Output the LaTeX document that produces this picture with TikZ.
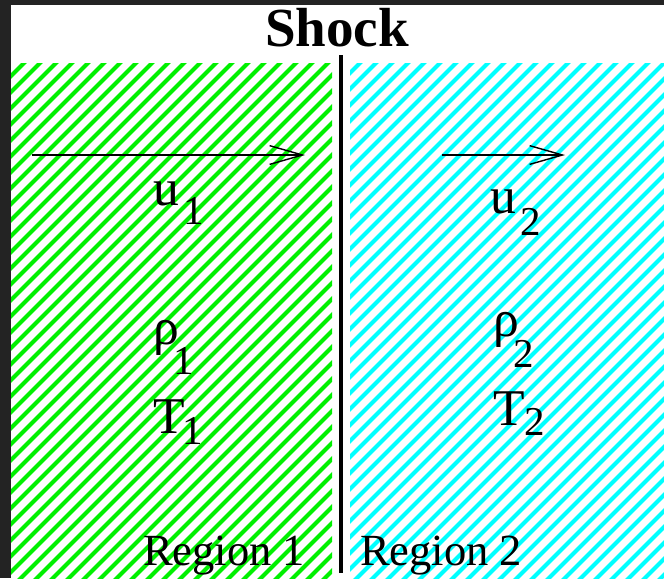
\documentclass[tikz,border=0pt]{standalone}
\usepackage{fontspec}
\setmainfont{Liberation Serif}
\usetikzlibrary{arrows.meta}
\definecolor{hatchgreen}{RGB}{0,240,0}
\definecolor{hatchcyan}{RGB}{0,255,255}
\definecolor{framegray}{RGB}{35,35,35}
\newcommand\lowsub[3]{\kern#1\raisebox{-#2}{\fontsize{35}{35}\selectfont #3}}

\begin{document}
\begin{tikzpicture}[x=0.03cm, y=-0.03cm, >={Straight Barb[length=28pt,width=16pt]}, every node/.style={inner sep=0pt, anchor=base west, font=\rmfamily\fontsize{44}{44}\selectfont}, hatch/.style={line width=3.6pt}]
  \useasboundingbox (0,0) rectangle (664,578);
  \fill[framegray] (0,0) rectangle (664,578);
  \fill[white] (11,5) rectangle (664,578);
  % hatched regions
  \begin{scope}
    \clip (11,63) rectangle (332,578);
    \foreach \k in {-8,...,45} \draw[hatch, hatchgreen] (155+16*\k,44) -- (-399+16*\k,598);
  \end{scope}
  \begin{scope}
    \clip (350,63) rectangle (664,578);
    \foreach \k in {10,...,66} \draw[hatch, hatchcyan] (155+16*\k,44) -- (-399+16*\k,598);
  \end{scope}
  % shock front
  \coordinate (stop) at (341,55); \coordinate (sbot) at (341,573);
  \draw[line width=3.4pt] (stop) -- (sbot);
  \node[anchor=base, font=\rmfamily\fontsize{47}{47}\selectfont\bfseries] (shock) at (337,46) {Shock};
  % velocities
  \coordinate (a1s) at (32,155); \coordinate (a1e) at (305,155);
  \coordinate (a2s) at (442,155); \coordinate (a2e) at (565,155);
  \draw[->, line width=1.2pt] (a1s) -- (a1e); \draw[->, line width=1.2pt] (a2s) -- (a2e);
  \node (u1) at (153,205) {u\lowsub{4pt}{17pt}{1}}; \node (u2) at (490,213) {u\lowsub{4pt}{19pt}{2}};
  \node (rho1) at (153,344) {ρ\lowsub{-5pt}{26pt}{1}}; \node (rho2) at (493,336) {ρ\lowsub{-5pt}{27pt}{2}};
  \node (T1) at (153,433) {T\lowsub{-2pt}{10pt}{1}}; \node (T2) at (493,425) {T\lowsub{0pt}{9pt}{2}};
  \node[font=\rmfamily\fontsize{38}{38}\selectfont] (reg1) at (143,565) {Region 1};
  \node[font=\rmfamily\fontsize{38}{38}\selectfont] (reg2) at (360,565) {Region 2};
\end{tikzpicture}
\end{document}
